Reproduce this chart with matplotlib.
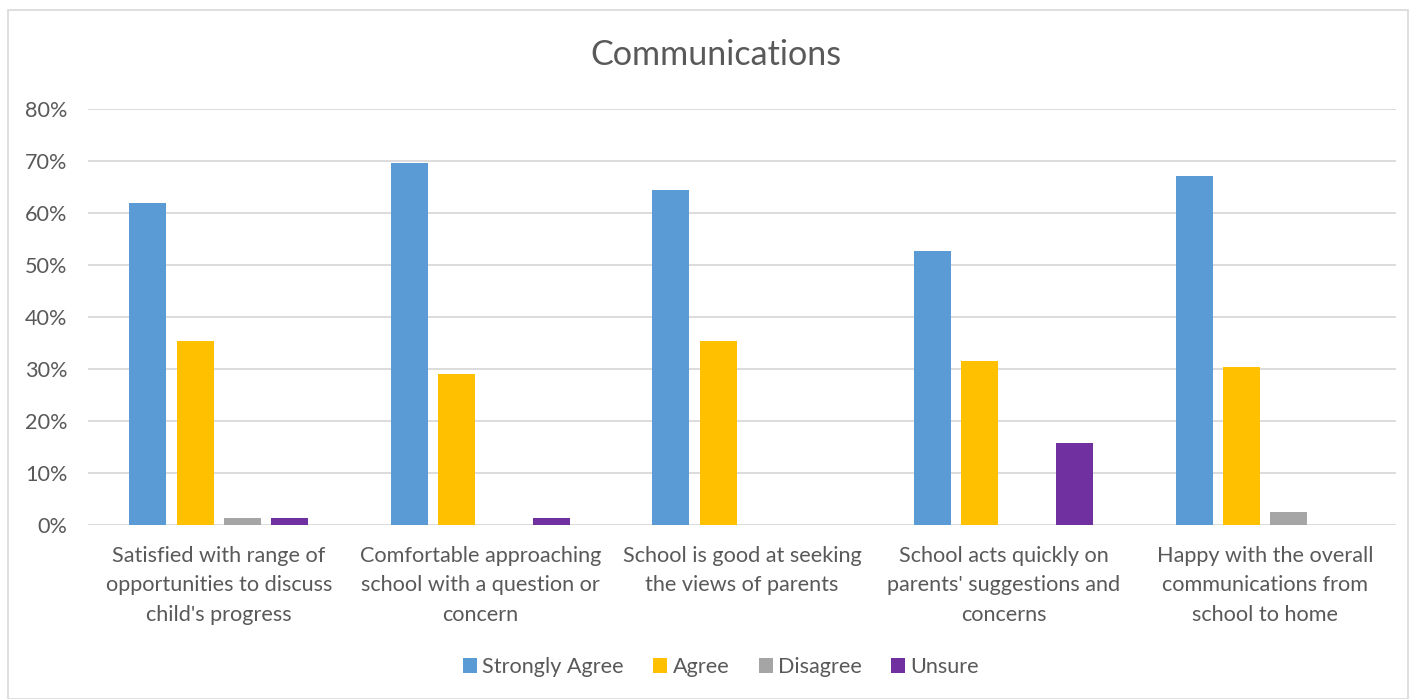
import numpy as np
import matplotlib
matplotlib.use("Agg")
import matplotlib.pyplot as plt
from matplotlib.patches import Rectangle

plt.rcParams['font.family'] = ['Lato', 'DejaVu Sans']

# data (percent)
categories = [
    "Satisfied with range of\nopportunities to discuss\nchild's progress",
    "Comfortable approaching\nschool with a question or\nconcern",
    "School is good at seeking\nthe views of parents",
    "School acts quickly on\nparents' suggestions and\nconcerns",
    "Happy with the overall\ncommunications from\nschool to home",
]
series_names = ["Strongly Agree", "Agree", "Disagree", "Unsure"]
strongly_agree = [62.0, 69.6, 64.5, 52.6, 67.1]
agree = [35.4, 29.1, 35.4, 31.6, 30.4]
disagree = [1.3, 0.0, 0.0, 0.0, 2.5]
unsure = [1.3, 1.3, 0.0, 15.8, 0.0]
y_ticks = [0, 10, 20, 30, 40, 50, 60, 70, 80]

colors = ["#5B9BD5", "#FFC000", "#A5A5A5", "#7030A0"]
text_col = "#595959"
grid_col = "#D9D9D9"
fs = 15.6

fig = plt.figure(figsize=(14.16, 6.99), dpi=100)
ax = fig.add_axes([88 / 1416, 174 / 699, 1308 / 1416, 416 / 699])

x = np.arange(len(categories))
pitch = 0.181
width = 0.1414
all_series = [strongly_agree, agree, disagree, unsure]
for i, (name, vals) in enumerate(zip(series_names, all_series)):
    ax.bar(x + (i - 1.5) * pitch, vals, width, color=colors[i], label=name, zorder=3)

ax.set_xlim(-0.5, len(categories) - 0.5)
ax.set_ylim(0, 80)
ax.set_yticks(y_ticks)
ax.set_yticklabels([f"{t}%" for t in y_ticks], color=text_col, fontsize=fs)
ax.set_xticks(x)
ax.set_xticklabels(categories, color=text_col, fontsize=fs, linespacing=1.6)
ax.tick_params(axis='both', length=0)
ax.tick_params(axis='y', pad=15)
ax.tick_params(axis='x', pad=15)
ax.yaxis.grid(True, color=grid_col, linewidth=1.3, zorder=0)
for s in ax.spines.values():
    s.set_visible(False)

fig.text(716 / 1416, 1 - 55 / 699, "Communications", ha='center', va='center',
         fontsize=24.6, color=text_col)

leg = fig.legend(loc='center', bbox_to_anchor=(721 / 1416, 1 - 667 / 699), ncol=4,
                 frameon=False, fontsize=fs, handlelength=0.65, handleheight=0.65,
                 handletextpad=0.25, columnspacing=1.35)
for t in leg.get_texts():
    t.set_color(text_col)

# chart outer border
fig.patches.append(Rectangle((8 / 1416, 0), 1400 / 1416, 1 - 10 / 699, transform=fig.transFigure,
                             fill=False, edgecolor=grid_col, linewidth=1.2))

fig.savefig("out.png", dpi=100)
